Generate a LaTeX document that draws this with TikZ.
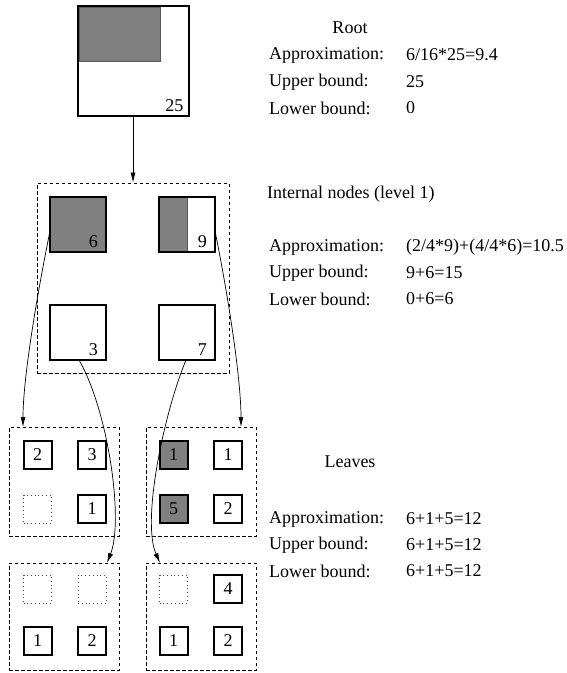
\documentclass[tikz,border=0pt]{standalone}
\usepackage{fontspec}
\setmainfont{Liberation Serif}
\usetikzlibrary{arrows.meta}
\begin{document}
\begin{tikzpicture}[x=1pt,y=-1pt,
  font=\fontsize{18}{22}\selectfont,
  bigsq/.style={draw, line width=2pt, minimum width=56pt, minimum height=55pt, inner sep=0pt},
  smsq/.style={draw, line width=2pt, minimum width=28pt, minimum height=28pt, inner sep=0pt},
  dotsq/.style={draw=black!70, line width=0.8pt, dash pattern=on 0.8pt off 3pt, minimum width=28pt, minimum height=28pt, inner sep=0pt},
  grp/.style={draw, line width=0.8pt, dash pattern=on 3.5pt off 2.5pt},
  num/.style={anchor=south east, inner xsep=9pt, inner ysep=5pt},
  txt/.style={anchor=west, inner sep=0pt},
  ctxt/.style={inner sep=0pt},
  arr/.style={-{Latex[length=10pt,width=5pt]}, line width=0.7pt},
  grayfill/.style={fill=black!50}
]
\useasboundingbox (0,0) rectangle (566,673);
% Root
\fill[grayfill, draw=black!65, line width=0.6pt] (79,7) rectangle (160,61);
\node[draw, line width=2pt, minimum width=111pt, minimum height=110pt, inner sep=0pt] (root) at (133,60.5) {};
\node[num, inner xsep=6pt] (n25) at (root.south east) {25};

% Internal
\node[grp, minimum width=192pt, minimum height=190pt, inner sep=0pt] (int) at (133,278) {};
\node[bigsq, grayfill] (s6) at (78,224.5) {};
\node[num] (n6) at (s6.south east) {6};
\fill[grayfill] (159,197) rectangle (187,252);
\draw[black!65, line width=0.6pt] (187,197) -- (187,252);
\node[bigsq] (s9) at (187,224.5) {};
\node[num] (n9) at (s9.south east) {9};
\node[bigsq] (s3) at (78,332.5) {};
\node[num] (n3) at (s3.south east) {3};
\node[bigsq] (s7) at (187,332.5) {};
\node[num] (n7) at (s7.south east) {7};

% Leaves groups
\node[grp, minimum width=110pt, minimum height=109pt, inner sep=0pt] (L1) at (64,481.5) {};
\node[grp, minimum width=110pt, minimum height=109pt, inner sep=0pt] (R1) at (201,481.5) {};
\node[grp, minimum width=110pt, minimum height=107pt, inner sep=0pt] (L2) at (64,616.5) {};
\node[grp, minimum width=110pt, minimum height=107pt, inner sep=0pt] (R2) at (201,616.5) {};

\node[smsq] (a1) at (37.5,454.5) {2};
\node[smsq] (a2) at (92,454.5) {3};
\node[dotsq] (a3) at (37.5,509) {};
\node[smsq] (a4) at (92,509) {1};

\node[smsq, grayfill] (b1) at (173.5,454.5) {1};
\node[smsq] (b2) at (228,454.5) {1};
\node[smsq, grayfill] (b3) at (173.5,509) {5};
\node[smsq] (b4) at (228,509) {2};

\node[dotsq] (c1) at (37.5,589) {};
\node[dotsq] (c2) at (92,589) {};
\node[smsq] (c3) at (37.5,641) {1};
\node[smsq] (c4) at (92,641) {2};

\node[dotsq] (d1) at (173.5,589) {};
\node[smsq] (d2) at (228,589) {4};
\node[smsq] (d3) at (173.5,641) {1};
\node[smsq] (d4) at (228,641) {2};

% Arrows
\draw[arr] (root.south) -- (int.north);
\coordinate (t6) at (50,231);
\coordinate (t9) at (215,231);
\coordinate (e6) at (23,427);
\coordinate (e9) at (241,427);
\coordinate (b3s) at (79,360);
\coordinate (b7s) at (186,360);
\coordinate (eL2) at (107,563);
\coordinate (eR2) at (160,563);
\draw[arr] (t6) .. controls (36,300) and (23,380) .. (e6);
\draw[arr] (t9) .. controls (229,300) and (241,380) .. (e9);
\draw[arr] (b3s) .. controls (108,410) and (124,520) .. (eL2);
\draw[arr] (b7s) .. controls (165,410) and (141,520) .. (eR2);

% Texts
\node[ctxt] (rt) at (350,28) {Root};
\node[txt] (ra) at (269,55) {Approximation:};
\node[txt] (rav) at (406,55) {6/16*25=9.4};
\node[txt] (ru) at (269,82) {Upper bound:};
\node[txt] (ruv) at (406,82) {25};
\node[txt] (rl) at (269,108) {Lower bound:};
\node[txt] (rlv) at (406,108) {0};

\node[txt] (it) at (267,194) {Internal nodes (level 1)};
\node[txt] (ia) at (269,247) {Approximation:};
\node[txt] (iav) at (406,247) {(2/4*9)+(4/4*6)=10.5};
\node[txt] (iu) at (269,273) {Upper bound:};
\node[txt] (iuv) at (406,273) {9+6=15};
\node[txt] (il) at (269,299) {Lower bound:};
\node[txt] (ilv) at (406,299) {0+6=6};

\node[ctxt] (lt) at (350,462) {Leaves};
\node[txt] (la) at (269,519) {Approximation:};
\node[txt] (lav) at (406,519) {6+1+5=12};
\node[txt] (lu) at (269,545) {Upper bound:};
\node[txt] (luv) at (406,545) {6+1+5=12};
\node[txt] (ll) at (269,571) {Lower bound:};
\node[txt] (llv) at (406,571) {6+1+5=12};
\end{tikzpicture}
\end{document}
